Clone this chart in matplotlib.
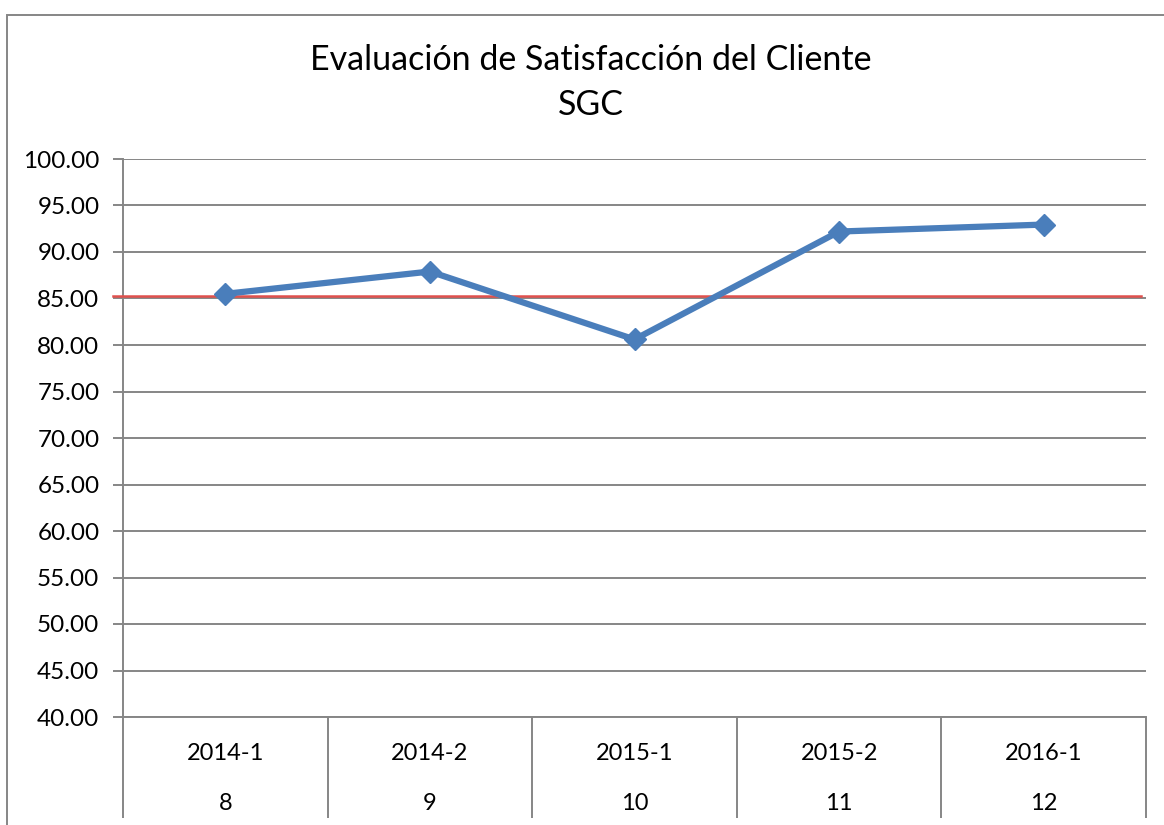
import numpy as np
import matplotlib.pyplot as plt
from matplotlib.patches import Rectangle

# data
periods = ['2014-1', '2014-2', '2015-1', '2015-2', '2016-1']
period_nums = ['8', '9', '10', '11', '12']
satisfaction = [85.5, 87.9, 80.6, 92.2, 92.95]
target = 85.25

plt.rcParams['font.family'] = ['Lato', 'DejaVu Sans']
grey = '#868686'

fig = plt.figure(figsize=(11.64, 8.25), dpi=100)
ax = fig.add_axes([123/1164, 1 - 717/825, (1146 - 123)/1164, (717 - 159)/825])

# outer chart border
fig.patches.append(Rectangle((7/1164, -0.1), 1.2, 1.1 - 15/825, transform=fig.transFigure,
                             fill=False, edgecolor=grey, lw=1.4, clip_on=False))

x = np.arange(len(periods))
ax.axhline(target, xmin=-0.01, xmax=0.995, color='#E0504D', lw=1.8, clip_on=False, zorder=3)
ax.plot(x, satisfaction, color='#4A7EBB', lw=4.5, marker='D', markersize=11, zorder=4)

ax.set_xlim(-0.5, len(periods) - 0.5)
ax.set_ylim(40, 100)
ax.set_yticks(np.arange(40, 101, 5))
ax.set_yticklabels([f'{v:.2f}' for v in np.arange(40, 101, 5)], fontsize=17.5)
ax.yaxis.grid(True, color=grey, lw=1.4)
ax.set_axisbelow(True)
ax.tick_params(axis='y', direction='out', length=7, width=1.4, color=grey, pad=10)

# category dividers
ax.set_xticks(np.arange(-0.5, len(periods)))
ax.set_xticklabels([])
ax.tick_params(axis='x', direction='out', length=73, width=1.4, color=grey)
for i in range(len(periods)):
    ax.text(x[i], -0.065, periods[i], transform=ax.get_xaxis_transform(),
            ha='center', va='center', fontsize=17)
    ax.text(x[i], -0.155, period_nums[i], transform=ax.get_xaxis_transform(),
            ha='center', va='center', fontsize=17)

for side in ['top', 'right']:
    ax.spines[side].set_visible(False)
for side in ['left', 'bottom']:
    ax.spines[side].set_color(grey)
    ax.spines[side].set_linewidth(1.4)

fig.text(591/1164, 1 - 60/825, 'Evaluación de Satisfacción del Cliente', ha='center', va='center', fontsize=24.5)
fig.text(591/1164, 1 - 105/825, 'SGC', ha='center', va='center', fontsize=24.5)

fig.savefig('out.png', dpi=100)
